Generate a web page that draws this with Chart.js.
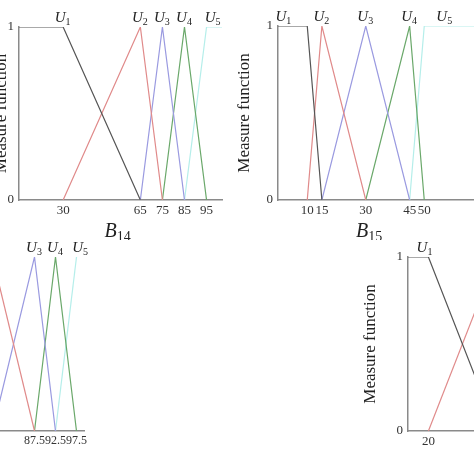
<!DOCTYPE html>
<html><head><meta charset="utf-8">
<script src="https://cdn.jsdelivr.net/npm/chart.js@4"></script>
<style>
html,body{margin:0;padding:0;background:#fff;width:474px;height:474px;overflow:hidden;position:relative}
.box{position:absolute}
</style></head><body>
<div class="box" id="b1"><canvas id="c1"></canvas></div>
<div class="box" id="b2"><canvas id="c2"></canvas></div>
<div class="box" id="b3"><canvas id="c3"></canvas></div>
<div class="box" id="b4"><canvas id="c4"></canvas></div>
<script>
// B14
const b14U1 = [[10, 1], [30, 1], [65, 0]];
const b14U2 = [[30, 0], [65, 1], [75, 0]];
const b14U3 = [[65, 0], [75, 1], [85, 0]];
const b14U4 = [[75, 0], [85, 1], [95, 0]];
const b14U5 = [[85, 0], [95, 1], [102, 1]];
const b14Ticks = [30, 65, 75, 85, 95];
// B15
const b15U1 = [[0, 1], [10, 1], [15, 0]];
const b15U2 = [[10, 0], [15, 1], [30, 0]];
const b15U3 = [[15, 0], [30, 1], [45, 0]];
const b15U4 = [[30, 0], [45, 1], [50, 0]];
const b15U5 = [[45, 0], [50, 1], [67, 1]];
const b15Ticks = [10, 15, 30, 45, 50];
// bottom-left panel (partial)
const p3U2 = [[77.5, 1], [87.5, 0]];
const p3U3 = [[77.5, 0], [87.5, 1], [92.5, 0]];
const p3U4 = [[87.5, 0], [92.5, 1], [97.5, 0]];
const p3U5 = [[92.5, 0], [97.5, 1]];
const p3Ticks = [87.5, 92.5, 97.5];
// bottom-right panel (partial)
const p4U1 = [[17, 1], [20, 1], [30, 0]];
const p4U2 = [[20, 0], [30, 1]];
const p4Ticks = [20];
const yTicks = [0, 1];

const COLORS = ['#555555', '#e08a8a', '#9a9ae0', '#6aa86a', '#b5eeea'];
const serif = '"Liberation Serif", "DejaVu Serif", serif';

const labelPlugin = {
  id: 'ulabels',
  afterDraw(chart, args, opts) {
    const c = chart.ctx, xs = chart.scales.x, ys = chart.scales.y;
    c.save();
    c.fillStyle = '#222';
    (opts.items || []).forEach(([v, n]) => {
      const px = xs.getPixelForValue(v), py = ys.getPixelForValue(1) - 5;
      c.font = 'italic 15px ' + serif;
      c.textAlign = 'left'; c.textBaseline = 'alphabetic';
      const w = c.measureText('U').width;
      c.fillText('U', px - w / 2 - 3, py);
      c.font = '10px ' + serif;
      c.fillText(n, px + w / 2 - 3, py + 3);
    });
    if (opts.name) {
      const px = (chart.chartArea.left + chart.chartArea.right) / 2 + (opts.nameShift || 0);
      const py = chart.chartArea.bottom + 37;
      c.font = 'italic 20px ' + serif;
      c.fillText('B', px - 10, py);
      const w = c.measureText('B').width;
      c.font = '14px ' + serif;
      c.fillText(opts.name, px - 10 + w, py + 4);
    }
    c.restore();
  }
};

function make(id, box, area, xmin, xmax, series, ticks, labels, name, nameShift, fs) {
  const el = document.getElementById('b' + id);
  el.style.left = box.left + 'px'; el.style.top = box.top + 'px';
  el.style.width = box.w + 'px'; el.style.height = box.h + 'px';
  const yW = area.l - box.left, xH = box.top + box.h - area.b;
  new Chart(document.getElementById('c' + id), {
    type: 'scatter',
    data: {
      datasets: series.map((s, i) => ({
        data: s.pts.map(p => ({x: p[0], y: p[1]})),
        showLine: true, borderColor: COLORS[s.c], borderWidth: 1.2,
        pointRadius: 0, fill: false, tension: 0
      }))
    },
    options: {
      responsive: true, maintainAspectRatio: false, animation: false,
      layout: {padding: {top: area.t - box.top, right: box.left + box.w - area.r, left: 0, bottom: 0}},
      plugins: {legend: {display: false}, tooltip: {enabled: false},
        ulabels: {items: labels, name: name, nameShift: nameShift}},
      scales: {
        x: {type: 'linear', min: xmin, max: xmax,
          afterBuildTicks: s => { s.ticks = ticks.map(v => ({value: v})); },
          afterFit: s => { s.height = xH; },
          grid: {display: false, drawTicks: false, tickLength: 0}, border: {color: '#8a8a8a', width: 1.5},
          ticks: {color: '#333', font: {family: serif, size: fs || 13}, padding: 3, maxRotation: 0, autoSkip: false,
            callback: v => String(v)}},
        y: {type: 'linear', min: 0, max: 1,
          afterBuildTicks: s => { s.ticks = yTicks.map(v => ({value: v})); },
          afterFit: s => { s.width = yW; },
          grid: {display: false, drawTicks: false, tickLength: 0}, border: {color: '#8a8a8a', width: 1.5},
          title: {display: true, text: 'Measure function', color: '#222', font: {family: serif, size: 17}, padding: 0},
          ticks: {color: '#333', font: {family: serif, size: 13}, padding: 5}}
      }
    },
    plugins: [labelPlugin]
  });
}

make(1, {left: -9, top: 0, w: 239, h: 240}, {l: 19, t: 27, r: 222, b: 200}, 10, 102,
  [{pts: b14U1, c: 0}, {pts: b14U2, c: 1}, {pts: b14U3, c: 2}, {pts: b14U4, c: 3}, {pts: b14U5, c: 4}],
  b14Ticks, [[30, '1'], [65, '2'], [75, '3'], [85, '4'], [98, '5']], '14', -6);
make(2, {left: 234, top: 0, w: 240, h: 240}, {l: 278, t: 26, r: 474, b: 200}, 0, 67,
  [{pts: b15U1, c: 0}, {pts: b15U2, c: 1}, {pts: b15U3, c: 2}, {pts: b15U4, c: 3}, {pts: b15U5, c: 4}],
  b15Ticks, [[2, '1'], [15, '2'], [30, '3'], [45, '4'], [57, '5']], '15', -10);
make(3, {left: -80, top: 240, w: 170, h: 234}, {l: -18, t: 257, r: 90, b: 431}, 75, 99.5,
  [{pts: p3U2, c: 1}, {pts: p3U3, c: 2}, {pts: p3U4, c: 3}, {pts: p3U5, c: 4}],
  p3Ticks, [[87.5, '3'], [92.5, '4'], [98.5, '5']], null, 0, 12);
make(4, {left: 360, top: 240, w: 114, h: 234}, {l: 408, t: 257, r: 474, b: 431}, 17, 26.7,
  [{pts: p4U1, c: 0}, {pts: p4U2, c: 1}],
  p4Ticks, [[19.5, '1']], null, 0);
</script>
</body></html>
